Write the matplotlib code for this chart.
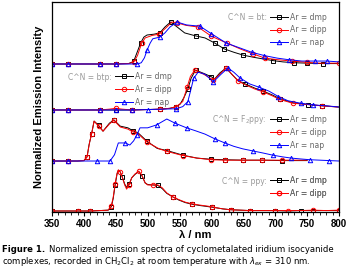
import numpy as np
import matplotlib.pyplot as plt
from matplotlib.ticker import MultipleLocator

# ---- data (normalized intensity) ----
bt_dmp_wl = [350, 375, 400, 425, 450, 470, 478, 484, 489, 494, 499, 510, 519, 527, 536, 548, 558, 575,
             590, 605, 620, 635, 650, 666, 681, 697, 712, 730, 750, 775, 800]
bt_dmp = [0, 0, 0, 0, 0, 0.01, 0.06, 0.3, 0.5, 0.64, 0.69, 0.71, 0.74, 0.88, 1.0, 0.86, 0.74, 0.67,
          0.62, 0.5, 0.36, 0.28, 0.21, 0.16, 0.12, 0.08, 0.05, 0.03, 0.02, 0.01, 0.01]
bt_dipp_wl = [350, 375, 400, 425, 450, 470, 478, 484, 488, 491, 496, 507, 518, 530, 538, 546, 560, 579,
              600, 624, 645, 665, 684, 705, 726, 750, 767, 800]
bt_dipp = [0, 0, 0, 0, 0, 0.01, 0.04, 0.2, 0.38, 0.5, 0.62, 0.68, 0.71, 0.88, 1.0, 0.98, 0.92, 0.88,
           0.66, 0.5, 0.36, 0.24, 0.14, 0.1, 0.07, 0.04, 0.02, 0.02]
bt_nap_wl = [350, 375, 400, 425, 450, 470, 484, 490, 495, 499, 504, 508, 519, 527, 535, 546, 561, 582,
             600, 623, 645, 663, 683, 703, 722, 742, 762, 781, 800]
bt_nap = [0, 0, 0, 0, 0, 0, 0, 0.03, 0.15, 0.33, 0.5, 0.6, 0.64, 0.74, 0.88, 1.0, 0.93, 0.9,
          0.72, 0.5, 0.38, 0.28, 0.2, 0.14, 0.1, 0.07, 0.07, 0.07, 0.05]

btp_dmp_wl = [350, 375, 400, 425, 450, 475, 500, 520, 535, 545, 551, 557, 563, 568, 575, 588, 600, 605,
              613, 623, 632, 642, 653, 668, 681, 695, 707, 728, 751, 773, 800]
btp_dmp = [0, 0, 0, 0, 0, 0, 0.01, 0.02, 0.04, 0.08, 0.14, 0.3, 0.5, 0.75, 0.95, 0.87, 0.79, 0.74,
           0.88, 1.0, 0.85, 0.69, 0.62, 0.52, 0.45, 0.36, 0.27, 0.17, 0.13, 0.1, 0.07]
btp_dipp_wl = [350, 375, 400, 425, 440, 450, 460, 475, 500, 520, 535, 545, 555, 562, 567, 574, 588, 603,
               613, 623, 632, 642, 653, 668, 681, 695, 707, 728, 751, 773, 798]
btp_dipp = [0, 0, 0, 0, 0.02, 0.04, 0.02, 0, 0.01, 0.02, 0.04, 0.08, 0.2, 0.55, 0.8, 0.95, 0.85, 0.71,
            0.85, 1.0, 0.85, 0.69, 0.6, 0.5, 0.43, 0.34, 0.25, 0.16, 0.13, 0.1, 0.07]
btp_nap_wl = [350, 375, 400, 425, 450, 475, 500, 525, 545, 555, 563, 568, 572, 579, 590, 603, 615, 626,
              635, 645, 660, 675, 690, 705, 720, 740, 760, 780, 800]
btp_nap = [0, 0, 0, 0, 0, 0, 0.01, 0.02, 0.03, 0.08, 0.2, 0.5, 0.75, 0.9, 0.85, 0.67, 0.85, 1.0,
           0.9, 0.76, 0.62, 0.54, 0.45, 0.32, 0.22, 0.16, 0.12, 0.1, 0.07]

f2_dmp_wl = [350, 375, 390, 400, 405, 408, 412, 416, 423, 430, 440, 447, 457, 469, 477, 485, 499, 515,
             530, 555, 577, 600, 621, 650, 680, 710, 750]
f2_dmp = [0, 0, 0, 0.01, 0.1, 0.38, 0.64, 0.95, 0.85, 0.71, 0.9, 0.98, 0.83, 0.79, 0.72, 0.67, 0.47, 0.3,
          0.25, 0.14, 0.07, 0.04, 0.03, 0.02, 0.02, 0.01, 0.01]
f2_dipp_wl = [350, 375, 390, 400, 405, 409, 412, 416, 423, 430, 440, 447, 457, 469, 477, 485, 499, 518,
              530, 555, 577, 600, 621, 650, 680, 710, 750]
f2_dipp = [0, 0, 0, 0.01, 0.1, 0.45, 0.64, 0.95, 0.83, 0.71, 0.88, 0.97, 0.81, 0.76, 0.69, 0.65, 0.45, 0.29,
           0.23, 0.13, 0.07, 0.03, 0.02, 0.02, 0.02, 0.02, 0.02]
f2_nap_wl = [350, 375, 400, 420, 441, 448, 454, 465, 472, 478, 483, 488, 500, 514, 530, 543, 561, 575,
             590, 605, 621, 635, 649, 665, 681, 696, 711, 725, 739, 755, 770, 785, 800]
f2_nap = [0, 0, 0, 0, 0, 0.15, 0.43, 0.43, 0.38, 0.48, 0.62, 0.79, 0.79, 0.86, 1.0, 0.9, 0.79, 0.72,
          0.64, 0.53, 0.43, 0.35, 0.29, 0.24, 0.19, 0.14, 0.1, 0.07, 0.05, 0.03, 0.02, 0.01, 0]

ppy_wl = [350, 370, 390, 410, 425, 438, 443, 446, 449, 452, 454, 457, 460, 464, 467, 471, 475, 480, 486,
          491, 496, 500, 508, 516, 523, 530, 540, 549, 559, 570, 582, 592, 601, 610, 618, 630, 645, 660,
          680, 700, 720, 740, 760, 780, 800]
ppy_dipp = [0, 0, 0, 0, 0.01, 0.02, 0.12, 0.33, 0.65, 0.9, 0.98, 0.93, 0.81, 0.62, 0.52, 0.62, 0.79, 0.88,
            0.95, 0.85, 0.67, 0.62, 0.62, 0.62, 0.55, 0.43, 0.33, 0.27, 0.21, 0.17, 0.14, 0.12, 0.1, 0.07,
            0.05, 0.03, 0.02, 0.01, 0.01, 0.01, 0.01, 0.01, 0.02, 0.01, 0.02]
ppy_dmp = [0, 0, 0, 0, 0.01, 0.02, 0.1, 0.3, 0.62, 0.88, 0.97, 0.93, 0.82, 0.64, 0.56, 0.64, 0.79, 0.87,
           0.94, 0.84, 0.67, 0.63, 0.62, 0.61, 0.53, 0.42, 0.33, 0.26, 0.2, 0.16, 0.13, 0.11, 0.09, 0.07,
           0.05, 0.03, 0.02, 0.01, 0.01, 0.01, 0.0, 0.01, 0.01, 0.01, 0.01]

# vertical offsets of the stacked spectra
offsets = {"bt": 3.5, "btp": 2.405, "f2": 1.19, "ppy": 0.0}

group_titles = ["C^N = bt:", "C^N = btp:", "C^N = F$_2$ppy:", "C^N = ppy:"]
series_labels = ["Ar = dmp", "Ar = dipp", "Ar = nap"]

plt.rcParams['font.family'] = 'DejaVu Sans'

W, H = 361, 272
fig = plt.figure(figsize=(W / 100, H / 100), dpi=100)
ax = fig.add_axes([52 / W, 60 / H, 287 / W, 210 / H])

styles = [dict(color='black', marker='s'),
          dict(color='red', marker='o'),
          dict(color='blue', marker='^')]


def draw(wl, vals, off, style):
    line, = ax.plot(wl, np.array(vals) + off, lw=0.7, markersize=3.2, mfc='none', mew=0.7,
                    markevery=0.058, **style)
    return line


groups = [
    ("bt", [(bt_dmp_wl, bt_dmp), (bt_dipp_wl, bt_dipp), (bt_nap_wl, bt_nap)]),
    ("btp", [(btp_dmp_wl, btp_dmp), (btp_dipp_wl, btp_dipp), (btp_nap_wl, btp_nap)]),
    ("f2", [(f2_dmp_wl, f2_dmp), (f2_dipp_wl, f2_dipp), (f2_nap_wl, f2_nap)]),
    ("ppy", [(ppy_wl, ppy_dmp), (ppy_wl, ppy_dipp)]),
]

# pixel -> axes fraction helpers
ax_px = lambda x: (x - 52) / 287
ay_px = lambda y: (212 - y) / 210
legend_pos = [(270, 17.5), (115, 77), (270, 120), (270, 181)]

for (key, data), title, (lx, ly) in zip(groups, group_titles, legend_pos):
    lines = [draw(wl, v, offsets[key], st) for (wl, v), st in zip(data, styles)]
    leg = ax.legend(lines, series_labels[:len(lines)], loc='upper left',
                    bbox_to_anchor=(ax_px(lx), ay_px(ly - 5)), frameon=False,
                    fontsize=5.5, handlelength=2.3, handletextpad=0.3, labelspacing=0.5,
                    borderpad=0, borderaxespad=0, labelcolor='#666666')
    ax.add_artist(leg)
    ax.text(ax_px(lx - 3), ay_px(ly), title, transform=ax.transAxes, ha='right', va='center',
            fontsize=5.5, color='#999999')

ax.set_xlim(350, 800)
ax.set_ylim(-0.024, 4.976)
ax.set_yticks([])
ax.xaxis.set_major_locator(MultipleLocator(50))
ax.xaxis.set_minor_locator(MultipleLocator(10))
ax.tick_params(axis='x', which='major', length=3, width=0.8, pad=2)
ax.tick_params(axis='x', which='minor', length=2, width=0.6)
for lab in ax.get_xticklabels():
    lab.set_fontfamily('Liberation Sans')
    lab.set_fontweight('bold')
    lab.set_fontsize(7)
for s in ax.spines.values():
    s.set_linewidth(0.9)

ax.set_xlabel("λ / nm", fontsize=8, fontweight='bold', family='Liberation Sans', labelpad=1)
ax.set_ylabel("Normalized Emission Intensity", fontsize=8, fontweight='bold',
              family='Liberation Sans', labelpad=6)

# caption
fig.text(2 / W, 1 - 250 / H, "Figure 1.", fontsize=6.1, fontweight='bold', va='center', ha='left')
fig.text(49 / W, 1 - 250 / H, "Normalized emission spectra of cyclometalated iridium isocyanide",
         fontsize=6.15, va='center', ha='left')
fig.text(2 / W, 1 - 261 / H,
         "complexes, recorded in CH$_2$Cl$_2$ at room temperature with $\\lambda_{ex}$ = 310 nm.",
         fontsize=6.15, va='center', ha='left')

fig.savefig("out.png", dpi=100)
